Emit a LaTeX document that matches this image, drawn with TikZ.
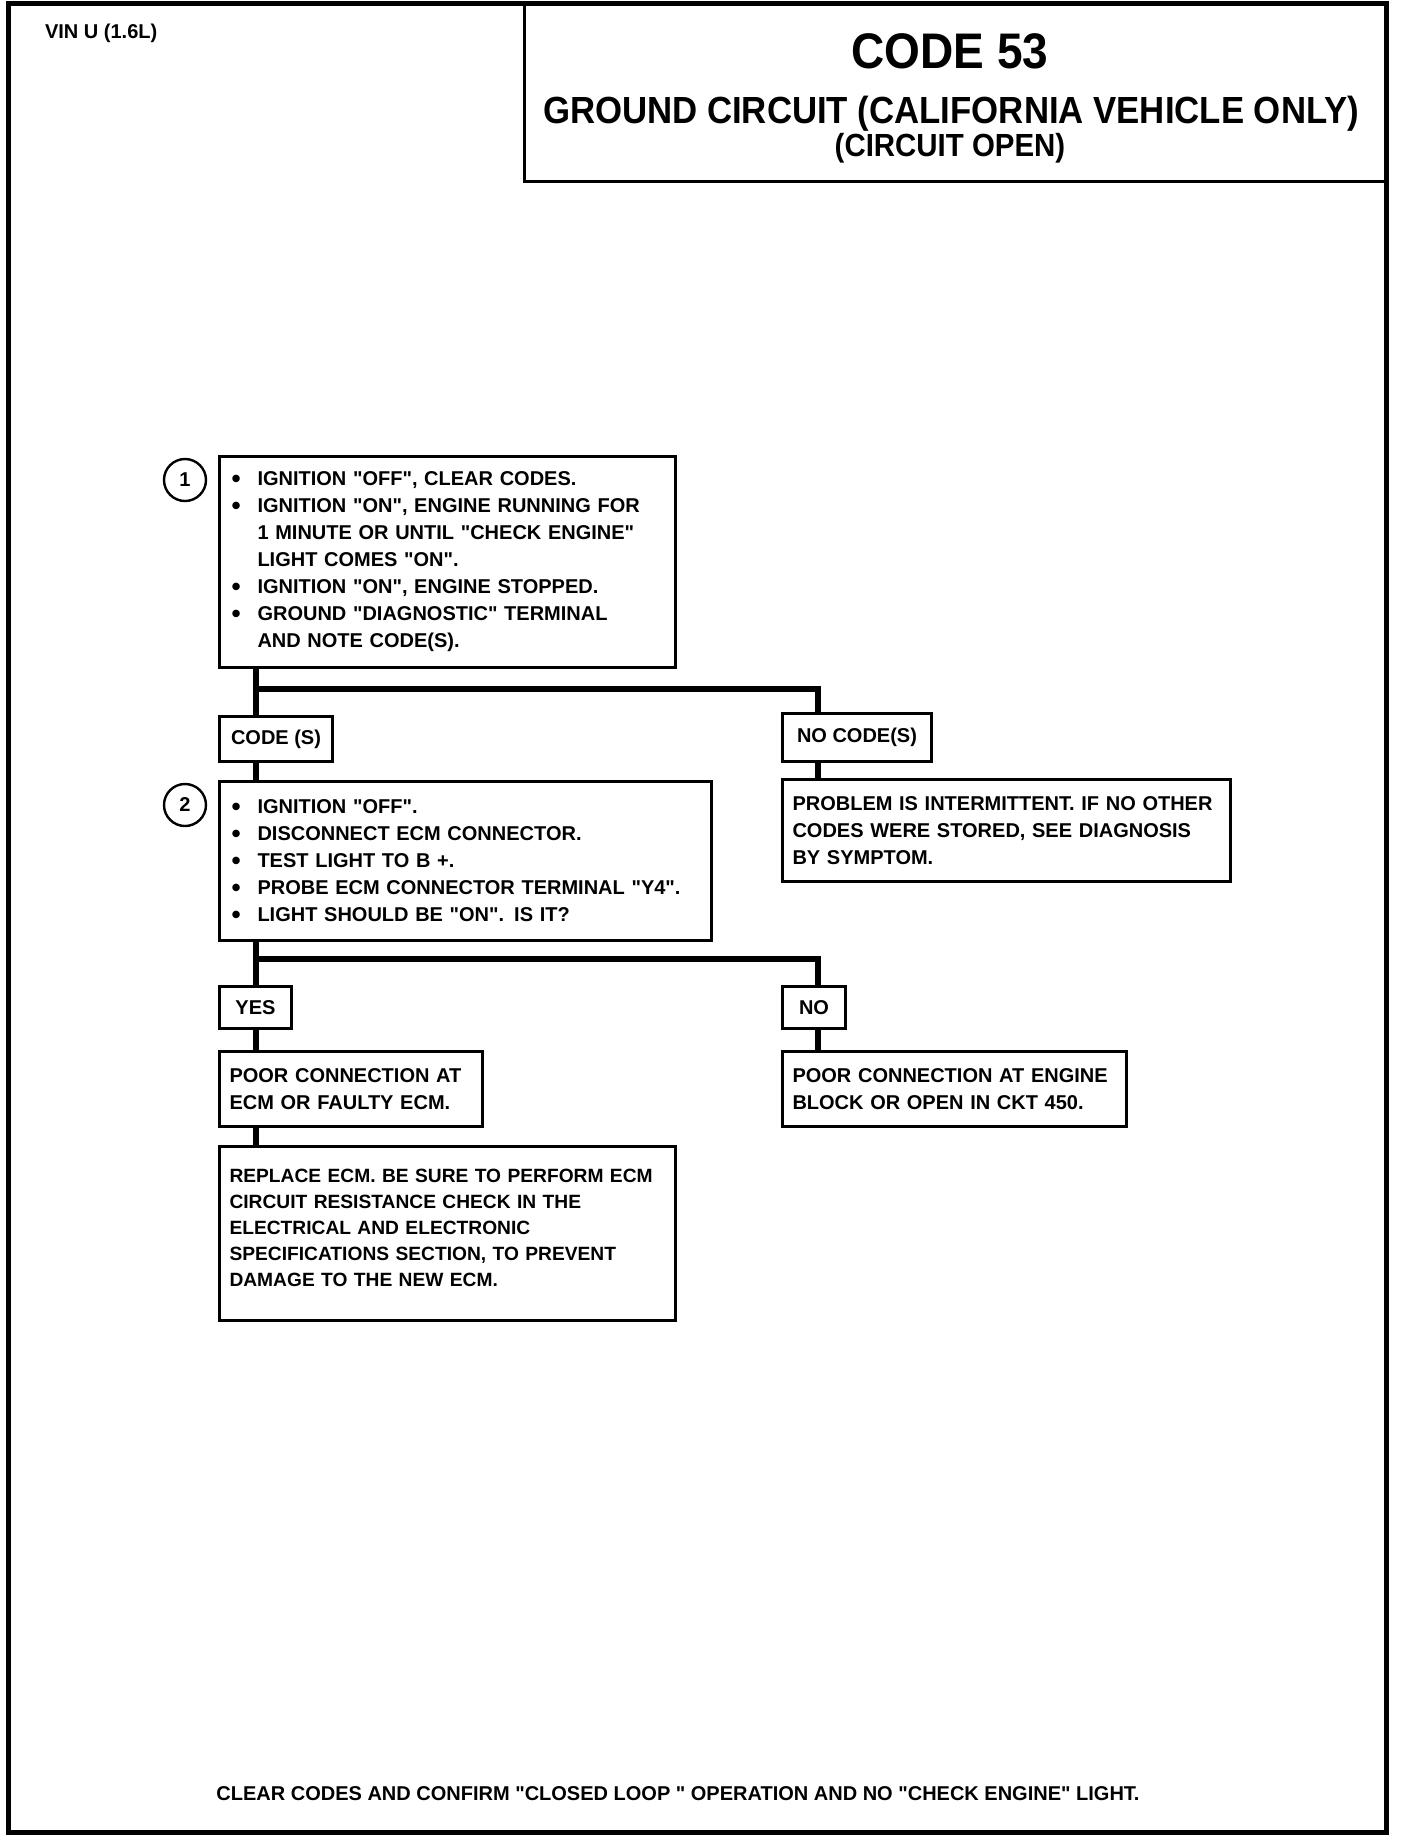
\documentclass[tikz,border=0pt]{standalone}
\usepackage{fontspec}
\setmainfont{Liberation Sans}
\newfontfamily\titlefont[FakeStretch=0.92]{Liberation Sans}
\newfontfamily\qfont{Liberation Sans}
\usetikzlibrary{positioning}
\newcommand{\bul}{\makebox[13pt][l]{\smash{\raisebox{-0.8pt}{\fontsize{13}{13}\selectfont\textbullet}}}}
\newcommand{\ind}{\hspace*{13pt}}
\newcommand{\qt}{{\qfont\char"22\relax}}

\begin{document}
\begin{tikzpicture}[x=0.5pt, y=-0.5pt,
    box/.style={draw, line width=1.5pt, anchor=north west, align=left, inner xsep=6pt, inner ysep=0pt,
      font=\bfseries\fontsize{10}{13.5}\selectfont},
    tag/.style={draw, line width=1.5pt, anchor=north west, inner sep=0pt, align=center,
      font=\bfseries\fontsize{10}{12}\selectfont},
    num/.style={draw, circle, line width=1.2pt, minimum size=21pt, inner sep=0pt, font=\bfseries\fontsize{10}{12}\selectfont},
    wire/.style={line width=3pt}]
  \useasboundingbox (0,0) rectangle (1408,1838);
  % frame and title
  \draw[line width=2.5pt] (8,3) rectangle (1386,1832);
  \node[draw, line width=1.5pt, anchor=north west, minimum width=431.5pt, minimum height=88.5pt, inner sep=0pt] (titlebox) at (523,3) {};
  \node[anchor=west, font=\bfseries\fontsize{10}{12}\selectfont] (vin) at (38,33) {VIN U (1.6L)};
  \node[font=\titlefont\bfseries\fontsize{25}{28}\selectfont] (code) at (950,51) {CODE 53};
  \node[font=\titlefont\bfseries\fontsize{18.9}{21}\selectfont] (what) at (951,114) {GROUND CIRCUIT (CALIFORNIA VEHICLE ONLY)};
  \node[font=\titlefont\bfseries\fontsize{16}{18}\selectfont] (open) at (950,148) {(CIRCUIT OPEN)};
  % step 1
  \node[num] (n1) at (185,480) {1};
  \node[box, text width=216pt, minimum height=105.5pt] (step1) at (218,455)
    {\bul IGNITION \qt OFF\qt, CLEAR CODES.\\
     \bul IGNITION \qt ON\qt, ENGINE RUNNING FOR\\
     \ind 1 MINUTE OR UNTIL \qt CHECK ENGINE\qt\\
     \ind LIGHT COMES \qt ON\qt.\\
     \bul IGNITION \qt ON\qt, ENGINE STOPPED.\\
     \bul GROUND \qt DIAGNOSTIC\qt\ TERMINAL\\
     \ind AND NOTE CODE(S).};
  \node[tag, minimum width=56.5pt, minimum height=22.5pt] (codes) at (218,715) {CODE (S)};
  \node[tag, minimum width=74.5pt, minimum height=24pt] (nocodes) at (781,712) {NO CODE(S)};
  \node[box, text width=214pt, minimum height=51pt, inner xsep=5pt] (intermit) at (781,778)
    {PROBLEM IS INTERMITTENT. IF NO OTHER\\
     CODES WERE STORED, SEE DIAGNOSIS\\
     BY SYMPTOM.};
  % step 2
  \node[num] (n2) at (185,805) {2};
  \node[box, text width=234pt, minimum height=79.5pt] (step2) at (218,780)
    {\bul IGNITION \qt OFF\qt.\\
     \bul DISCONNECT ECM CONNECTOR.\\
     \bul TEST LIGHT TO B +.\\
     \bul PROBE ECM CONNECTOR TERMINAL \qt Y4\qt.\\
     \bul LIGHT SHOULD BE \qt ON\qt. IS IT?};
  \node[tag, minimum width=36pt, minimum height=21pt] (yes) at (218,985) {YES};
  \node[tag, minimum width=31.5pt, minimum height=21pt] (no) at (781,985) {NO};
  \node[box, text width=121.5pt, minimum height=37.5pt, inner xsep=5pt] (ecm) at (218,1050)
    {POOR CONNECTION AT\\
     ECM OR FAULTY ECM.};
  \node[box, text width=162pt, minimum height=37.5pt, inner xsep=5pt] (block) at (781,1050)
    {POOR CONNECTION AT ENGINE\\
     BLOCK OR OPEN IN CKT 450.};
  \node[box, text width=218pt, minimum height=87pt, inner xsep=5pt, font=\bfseries\fontsize{9.6}{13}\selectfont] (replace) at (218,1145)
    {REPLACE ECM. BE SURE TO PERFORM ECM\\
     CIRCUIT RESISTANCE CHECK IN THE\\
     ELECTRICAL AND ELECTRONIC\\
     SPECIFICATIONS SECTION, TO PREVENT\\
     DAMAGE TO THE NEW ECM.\\[-7pt]\mbox{}};
  \node[font=\bfseries\fontsize{10}{12}\selectfont] (finish) at (678,1794)
    {CLEAR CODES AND CONFIRM \qt CLOSED LOOP \qt\ OPERATION AND NO \qt CHECK ENGINE\qt\ LIGHT.};
  % wires
  \coordinate (fork1) at (256,689);
  \coordinate (fork2) at (256,959);
  \draw[wire] ([xshift=19pt]step1.south west) -- ([xshift=19pt]codes.north west);
  \draw[wire] (fork1) -| ([xshift=18.5pt]nocodes.north west);
  \draw[wire] ([xshift=19pt]codes.south west) -- ([xshift=19pt]step2.north west);
  \draw[wire] ([xshift=18.5pt]nocodes.south west) -- ([xshift=18.5pt]intermit.north west);
  \draw[wire] ([xshift=19pt]step2.south west) -- ([xshift=19pt]yes.north west);
  \draw[wire] (fork2) -| ([xshift=18.5pt]no.north west);
  \draw[wire] ([xshift=19pt]yes.south west) -- ([xshift=19pt]ecm.north west);
  \draw[wire] ([xshift=18.5pt]no.south west) -- ([xshift=18.5pt]block.north west);
  \draw[wire] ([xshift=19pt]ecm.south west) -- ([xshift=19pt]replace.north west);
\end{tikzpicture}
\end{document}
